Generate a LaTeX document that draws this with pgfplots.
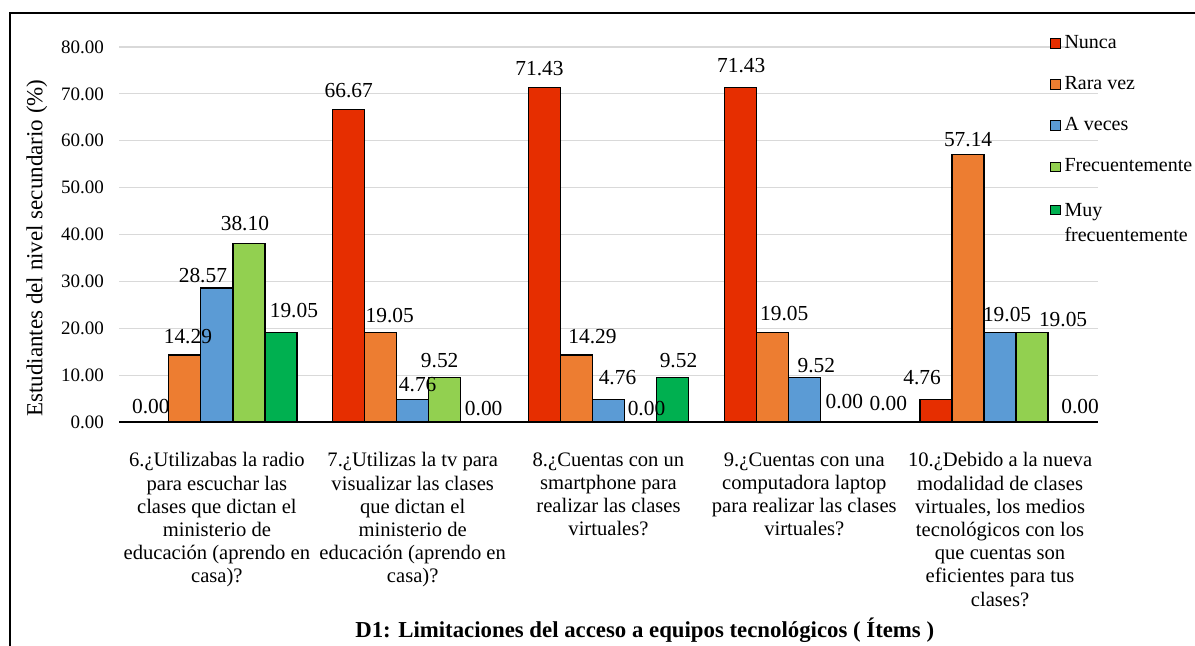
\documentclass[border=0pt]{standalone}
\usepackage{fontspec}
\setmainfont{Liberation Serif}
\usepackage{pgfplots}
\usepackage{pgfplotstable}
\pgfplotsset{compat=1.18}
\definecolor{cNunca}{RGB}{230,46,0}
\definecolor{cRara}{RGB}{237,125,49}
\definecolor{cAveces}{RGB}{91,155,213}
\definecolor{cFrec}{RGB}{146,208,80}
\definecolor{cMuy}{RGB}{0,176,80}
\definecolor{gridc}{RGB}{217,217,217}
% x = item, y = percentage, dx/dy = label offsets (pt)
\pgfplotstableread{
x y dx dy
0 0.00 -1 4.5
1 66.67 0 6
2 71.43 -2.5 6
3 71.43 0.5 7.5
4 4.76 -7 7.5
}\tNunca
\pgfplotstableread{
x y dx dy
0 14.29 1.5 6
1 19.05 4.5 5
2 14.29 8 6
3 19.05 6 6
4 57.14 0 4
}\tRara
\pgfplotstableread{
x y dx dy
0 28.57 -7 3
1 4.76 2.5 4
2 4.76 4.5 7.5
3 9.52 6 2.5
4 19.05 3.5 5.5
}\tAveces
\pgfplotstableread{
x y dx dy
0 38.10 -2 6.5
1 9.52 -2.5 5
2 0.00 3 3.5
3 0.00 4 7
4 19.05 15.5 3
}\tFrec
\pgfplotstableread{
x y dx dy
0 19.05 6.5 7.5
1 0.00 3.5 3.5
2 9.52 3 5
3 0.00 10 6
4 0.00 8 4.5
}\tMuy
\begin{document}
\begin{tikzpicture}
\useasboundingbox (0,0) rectangle (597.5pt,322.5pt);
\fill[white] (0,0) rectangle (597.5pt,322.5pt);
\draw[line width=1pt] (5pt,-2pt) -- (5pt,316pt) -- (602pt,316pt);
\begin{axis}[
  at={(59.5pt,111.5pt)}, anchor=south west,
  scale only axis, width=489.5pt, height=187.5pt,
  ybar=0pt, bar width=16pt,
  legend image code/.code={\draw[#1,draw=black,line width=0.5pt] (0pt,-2.4pt) rectangle (4.8pt,2.4pt);},
  xmin=-0.5, xmax=4.5, ymin=0, ymax=80,
  enlargelimits=false,
  xtick={0,1,2,3,4},
  xticklabels={
    {6.¿Utilizabas la radio\\para escuchar las\\clases que dictan el\\ministerio de\\educación (aprendo en\\casa)?},
    {7.¿Utilizas la tv para\\visualizar las clases\\que dictan el\\ministerio de\\educación (aprendo en\\casa)?},
    {8.¿Cuentas con un\\smartphone para\\realizar las clases\\virtuales?},
    {9.¿Cuentas con una\\computadora laptop\\para realizar las clases\\virtuales?},
    {10.¿Debido a la nueva\\modalidad de clases\\virtuales, los medios\\tecnológicos con los\\que cuentas son\\eficientes para tus\\clases?}},
  xticklabel style={align=center, font=\fontsize{10.3}{11.6}\selectfont, yshift=-7.5pt},
  ytick={0,10,...,80},
  yticklabel={\pgfmathprintnumber[fixed,fixed zerofill,precision=2,assume math mode=true]{\tick}},
  yticklabel style={font=\fontsize{9.5}{11}\selectfont, xshift=-4pt},
  tick style={draw=none},
  ymajorgrids, grid style={draw=gridc, line width=0.6pt},
  axis lines*=left,
  y axis line style={draw=none},
  x axis line style={draw=black, line width=0.8pt, -},
  visualization depends on={\thisrow{dx} \as \labdx},
  visualization depends on={\thisrow{dy} \as \labdy},
  nodes near coords={\pgfmathprintnumber[fixed,fixed zerofill,precision=2,assume math mode=true]{\pgfplotspointmeta}},
  nodes near coords style={font=\fontsize{10.7}{12}\selectfont, text=black, anchor=base, inner sep=0pt,
    xshift=\labdx, yshift=\labdy},
  ylabel={Estudiantes del nivel secundario (\%)},
  ylabel style={at={(axis description cs:-0.0838,0.464)}, anchor=center, font=\fontsize{11.5}{13}\selectfont},
  xlabel={\textbf{D1: Limitaciones del acceso a equipos tecnológicos ( Ítems )}},
  xlabel style={at={(axis description cs:0.537,-0.555)}, anchor=center, font=\fontsize{11.4}{13}\selectfont},
  legend cell align=left,
  legend style={at={(axis description cs:0.9505,1.0425)}, anchor=north west, draw=none, fill=none,
    font=\fontsize{10}{12}\selectfont, row sep=8.5pt, inner sep=0pt},
]
\addplot[fill=cNunca, draw=black, line width=0.6pt] table[x=x,y=y] {\tNunca};
\addplot[fill=cRara, draw=black, line width=0.6pt] table[x=x,y=y] {\tRara};
\addplot[fill=cAveces, draw=black, line width=0.6pt] table[x=x,y=y] {\tAveces};
\addplot[fill=cFrec, draw=black, line width=0.6pt] table[x=x,y=y] {\tFrec};
\addplot[fill=cMuy, draw=black, line width=0.6pt] table[x=x,y=y] {\tMuy};
\legend{Nunca, Rara vez, A veces, Frecuentemente, {\raisebox{0pt}[\height][0pt]{\begin{tabular}[t]{@{}l@{}}Muy\\[0.6pt]frecuentemente\end{tabular}}}}
\end{axis}
\end{tikzpicture}
\end{document}
